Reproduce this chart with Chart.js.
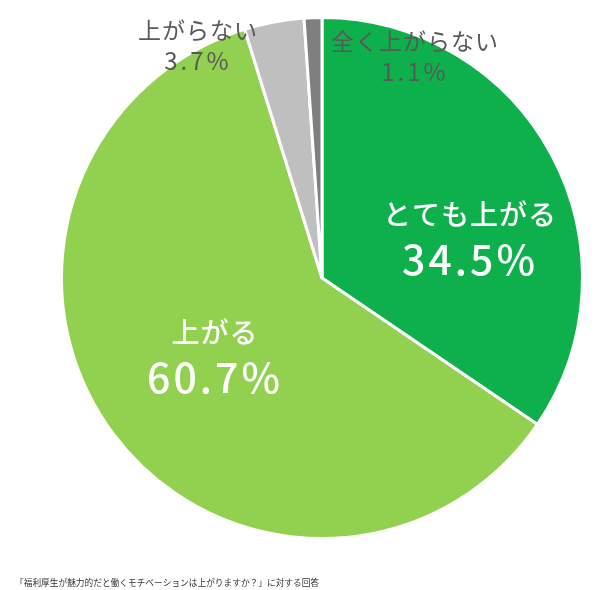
<!DOCTYPE html>
<html lang="ja">
<head>
    <meta charset="UTF-8">
    <title>福利厚生とモチベーション</title>
    <script src="https://cdn.jsdelivr.net/npm/chart.js"></script>
    <style>
        html, body { margin: 0; padding: 0; background: #fff; }
        .chart-container { position: relative; width: 602px; height: 590px; }
    </style>
</head>
<body>
    <div class="chart-container">
        <canvas id="pie" width="602" height="590"></canvas>
    </div>

    <script>
        // 回答の選択肢と割合(%)
        const categories = ['とても上がる', '上がる', '上がらない', '全く上がらない'];
        const values = [34.5, 60.7, 3.7, 1.1];
        const sliceColors = ['#0EB04C', '#92D050', '#BFBFBF', '#7F7F7F'];
        const caption = '「福利厚生が魅力的だと働くモチベーションは上がりますか？」に対する回答';

        // ラベルの表示位置 (円の中心からのずれ, px) と見た目
        const labelStyles = [
            { dx: 148, dy: -64, gap: 45, color: '#fff', nameSize: 28, valueSize: 41, weight: '500' },
            { dx: -107, dy: 54, gap: 45, color: '#fff', nameSize: 28, valueSize: 41, weight: '500' },
            { dx: -124, dy: -248, gap: 31, color: '#595959', nameSize: 23, valueSize: 24, weight: 'normal' },
            { dx: 93, dy: -237, gap: 31, color: '#595959', nameSize: 23, valueSize: 24, weight: 'normal' }
        ];

        const FONT = '"Noto Sans CJK JP", "Noto Sans", sans-serif';

        const labelPlugin = {
            id: 'sliceLabels',
            afterDraw(chart) {
                const ctx = chart.ctx;
                const arc = chart.getDatasetMeta(0).data[0];
                const cx = arc.x, cy = arc.y;
                ctx.save();
                ctx.textAlign = 'center';
                ctx.textBaseline = 'middle';
                categories.forEach((name, i) => {
                    const s = labelStyles[i];
                    ctx.fillStyle = s.color;
                    ctx.letterSpacing = '1px';
                    ctx.font = `${s.weight} ${s.nameSize}px ${FONT}`;
                    ctx.fillText(name, cx + s.dx, cy + s.dy);
                    ctx.letterSpacing = '3px';
                    ctx.font = `${s.weight} ${s.valueSize}px ${FONT}`;
                    ctx.fillText(values[i].toFixed(1) + '%', cx + s.dx, cy + s.dy + s.gap);
                });
                // 図の説明文
                ctx.letterSpacing = '0px';
                ctx.textAlign = 'left';
                ctx.fillStyle = '#333';
                ctx.font = `8.7px ${FONT}`;
                ctx.fillText(caption, 15, 583);
                ctx.restore();
            }
        };

        new Chart(document.getElementById('pie').getContext('2d'), {
            type: 'pie',
            data: {
                labels: categories,
                datasets: [{
                    data: values,
                    backgroundColor: sliceColors,
                    borderColor: '#fff',
                    borderWidth: 3
                }]
            },
            options: {
                responsive: false,
                maintainAspectRatio: false,
                animation: false,
                layout: { padding: { left: 60, right: 18, top: 16, bottom: 50 } },
                plugins: {
                    legend: { display: false },
                    tooltip: { enabled: false }
                }
            },
            plugins: [labelPlugin]
        });
    </script>
</body>
</html>
